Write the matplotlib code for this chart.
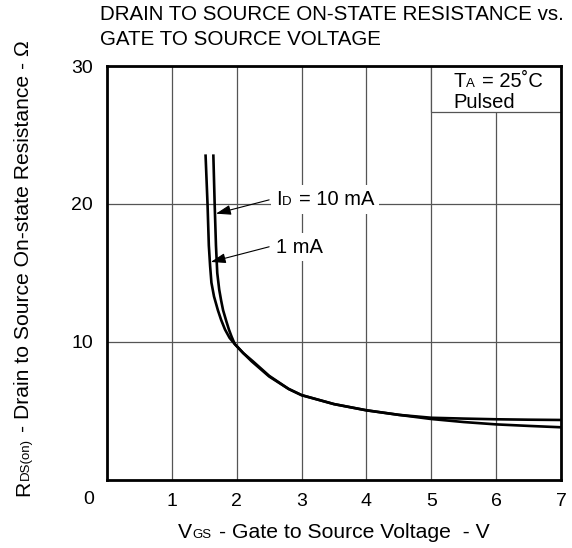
import matplotlib
matplotlib.use("Agg")
import matplotlib.pyplot as plt
from matplotlib.offsetbox import TextArea, HPacker, AnnotationBbox, DrawingArea
from matplotlib.patches import Rectangle

plt.rcParams['font.family'] = ['Liberation Sans', 'DejaVu Sans']

# ---- data ----
vgs_1ma = [1.52, 1.55, 1.57, 1.59, 1.61, 1.65, 1.71, 1.76, 1.82, 1.89, 1.97, 2.10, 2.25,
           2.50, 2.80, 3.00, 3.50, 4.00, 4.50, 5.00, 5.50, 6.00, 6.50, 7.00]
r_1ma = [23.5, 20.0, 17.0, 15.5, 14.3, 13.3, 12.3, 11.6, 10.9, 10.3, 9.85, 9.2, 8.6,
         7.55, 6.6, 6.15, 5.5, 5.05, 4.72, 4.42, 4.20, 4.03, 3.92, 3.82]

vgs_10ma = [1.64, 1.66, 1.68, 1.70, 1.73, 1.76, 1.79, 1.84, 1.88, 1.92, 1.97, 2.10, 2.23,
            2.50, 2.80, 3.00, 3.50, 4.00, 4.50, 5.00, 5.50, 6.00, 6.50, 7.00]
r_10ma = [23.5, 20.0, 17.0, 15.0, 13.8, 13.0, 12.3, 11.5, 10.9, 10.4, 9.85, 9.2, 8.6,
          7.5, 6.6, 6.15, 5.5, 5.05, 4.72, 4.51, 4.45, 4.40, 4.37, 4.35]

x_ticks = [1, 2, 3, 4, 5, 6, 7]
y_ticks = [10, 20, 30]
x_lim = (0, 7)
y_lim = (0, 30)

title_lines = ["DRAIN TO SOURCE ON-STATE RESISTANCE vs.", "GATE TO SOURCE VOLTAGE"]

FS = 14.5      # in-plot texts
LFS = 15.2     # axis labels
TTL = 14.75    # title
TFS = 14       # tick labels
SFS = 9.5
GRID = '#555555'

fig = plt.figure(figsize=(5.72, 5.48), dpi=100)
ax = fig.add_axes([107 / 572, 68 / 548, 454 / 572, 414 / 548])
ax.set_xlim(*x_lim)
ax.set_ylim(*y_lim)
ax.set_xticks(x_ticks)
ax.set_yticks(y_ticks)
ax.tick_params(length=0, labelsize=TFS)
ax.tick_params(axis='x', pad=9)
ax.tick_params(axis='y', pad=10)
ax.grid(True, color=GRID, lw=0.9)
ax.set_axisbelow(True)
for s in ax.spines.values():
    s.set_linewidth(2.0)
    s.set_zorder(5)

# origin label
ax.annotate("0", xy=(0, 0), xycoords='axes fraction', xytext=(-13, -14.4),
            textcoords='offset points', ha='center', va='center', fontsize=TFS,
            annotation_clip=False)

# curves
ax.plot(vgs_1ma, r_1ma, color='black', lw=1.9, zorder=3)
ax.plot(vgs_10ma, r_10ma, color='black', lw=1.9, zorder=3)

# TA box
ax.add_patch(Rectangle((5, 26.7), 2, 3.3, fc='white', ec=GRID, lw=0.9, zorder=1.5))


def packed(pieces, size_main, gap_after=None):
    kids = []
    for i, (txt, small) in enumerate(pieces):
        kids.append(TextArea(txt, textprops=dict(fontsize=SFS if small else size_main,
                                                 color='black')))
        if gap_after is not None and i == gap_after:
            kids.append(DrawingArea(0.38 * size_main, 0.1))
    return HPacker(children=kids, align='baseline', pad=0, sep=0)


ta = AnnotationBbox(packed([("T", False), ("A", True), ("= 25˚C", False)], FS, gap_after=1),
                    xy=(5.34, 28.5), xycoords='data', xybox=(0, -0.212 * FS),
                    boxcoords='offset points', box_alignment=(0, 0), frameon=False,
                    zorder=6)
ax.add_artist(ta)
ax.text(5.34, 26.93, "Pulsed", fontsize=FS, ha='left', va='baseline', zorder=6)

# curve labels
id_lab = AnnotationBbox(packed([("I", False), ("D", True), ("= 10 mA", False)], FS,
                               gap_after=1),
                        xy=(2.61, 19.93), xycoords='data', xybox=(0, -0.212 * FS),
                        boxcoords='offset points', box_alignment=(0, 0), frameon=True,
                        pad=0.35, bboxprops=dict(fc='white', ec='none'), zorder=4)
ax.add_artist(id_lab)
one_lab = AnnotationBbox(packed([("1 mA", False)], FS),
                         xy=(2.61, 16.5), xycoords='data', xybox=(0, -0.212 * FS),
                         boxcoords='offset points', box_alignment=(0, 0), frameon=True,
                         pad=0.35, bboxprops=dict(fc='white', ec='none'), zorder=4)
ax.add_artist(one_lab)

arrow_kw = dict(arrowstyle='-|>,head_length=0.6,head_width=0.2', color='black',
                lw=0.8, mutation_scale=15, shrinkA=0, shrinkB=0)
ax.annotate("", xy=(1.68, 19.3), xytext=(2.50, 20.3), arrowprops=arrow_kw, zorder=4)
ax.annotate("", xy=(1.60, 15.8), xytext=(2.50, 16.9), arrowprops=arrow_kw, zorder=4)

# title
fig.text(100 / 572, 1 - 20 / 548, title_lines[0], fontsize=TTL, ha='left', va='baseline')
fig.text(100 / 572, 1 - 45 / 548, title_lines[1], fontsize=TTL, ha='left', va='baseline')

# x label (centred under the axes)
xl = AnnotationBbox(packed([("V", False), ("GS", True),
                            ("- Gate to Source Voltage  - V", False)], LFS, gap_after=1),
                    xy=(334 / 572, 1 - 538 / 548), xycoords='figure fraction',
                    xybox=(0, -0.212 * LFS), boxcoords='offset points',
                    box_alignment=(0.5, 0), frameon=False)
fig.add_artist(xl)

# y label (rotated, chained pieces sharing one baseline)
yb = 29.3 / 572
t1 = fig.text(yb, 1 - 496 / 548, "R", fontsize=LFS, rotation=90, rotation_mode='anchor',
              ha='left', va='baseline')
t2 = ax.annotate("DS(on)", xy=(yb, 1), xycoords=("figure fraction", t1),
                 xytext=(0, 0.5), textcoords='offset points', fontsize=SFS,
                 rotation=90, rotation_mode='anchor', ha='left', va='baseline',
                 annotation_clip=False)
t3 = ax.annotate("- Drain to Source On-state Resistance - Ω", xy=(yb, 1),
                 xycoords=("figure fraction", t2), xytext=(0, 4.5),
                 textcoords='offset points', fontsize=LFS, rotation=90,
                 rotation_mode='anchor', ha='left', va='baseline', annotation_clip=False)

fig.savefig("out.png", dpi=100)
